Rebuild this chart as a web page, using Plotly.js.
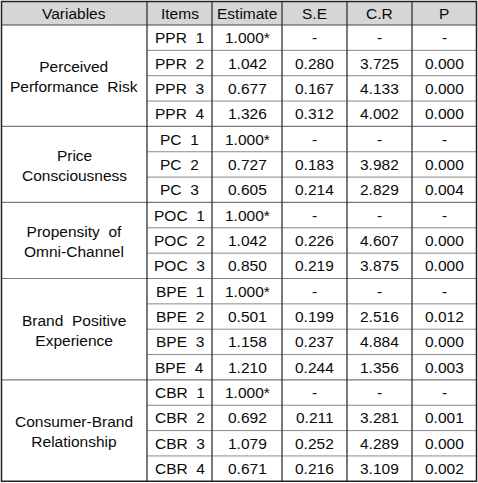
<!DOCTYPE html>
<html>
<head>
<meta charset="utf-8">
<script src="https://cdn.plot.ly/plotly-3.0.1.min.js"></script>
<style>html,body{margin:0;padding:0;background:#fff;}#chart{width:478px;height:483px;}</style>
</head>
<body>
<div id="chart"></div>
<script>
// ---- data ----
const headers = ["Variables", "Items", "Estimate", "S.E", "C.R", "P"];
const variables = ["Perceived<br>Performance\u00a0\u00a0Risk", "Price<br>Consciousness", "Propensity\u00a0\u00a0of<br>Omni-Channel", "Brand\u00a0\u00a0Positive<br>Experience", "Consumer-Brand<br>Relationship"];
const groupSizes = [4, 3, 3, 4, 4];
const items = ["PPR 1","PPR 2","PPR 3","PPR 4","PC 1","PC 2","PC 3","POC 1","POC 2","POC 3","BPE 1","BPE 2","BPE 3","BPE 4","CBR 1","CBR 2","CBR 3","CBR 4"];
const estimate = ["1.000*","1.042","0.677","1.326","1.000*","0.727","0.605","1.000*","1.042","0.850","1.000*","0.501","1.158","1.210","1.000*","0.692","1.079","0.671"];
const se = ["-","0.280","0.167","0.312","-","0.183","0.214","-","0.226","0.219","-","0.199","0.237","0.244","-","0.211","0.252","0.216"];
const cr = ["-","3.725","4.133","4.002","-","3.982","2.829","-","4.607","3.875","-","2.516","4.884","1.356","-","3.281","4.289","3.109"];
const pval = ["-","0.000","0.000","0.000","-","0.000","0.004","-","0.000","0.000","-","0.012","0.000","0.003","-","0.001","0.000","0.002"];

// ---- geometry ----
const colEdges = [1.5, 147, 212, 282, 347, 412, 476.5];
const tableTop = 1.5, headBottom = 25, rowH = 25.35;
const rowTop = i => headBottom + i * rowH;
const tableBottom = rowTop(items.length);
const fontFam = "Liberation Sans, Arial, sans-serif";
const txtColor = "#0a0a0a";
const shapes = [];
const ann = [];
const cx = c => (colEdges[c] + colEdges[c + 1]) / 2;

// header fill
shapes.push({type:"rect", xref:"x", yref:"y", x0:colEdges[0], x1:colEdges[6], y0:tableTop, y1:headBottom, fillcolor:"#d6d6d6", line:{width:0}, layer:"below"});

headers.forEach((h, c) => ann.push({x:cx(c), y:(tableTop+headBottom)/2, text:h}));

const cols = [items, estimate, se, cr, pval];
items.forEach((_, i) => {
  const yc = rowTop(i) + rowH / 2;
  cols.forEach((arr, k) => {
    ann.push({x:cx(k + 1), y:yc, text:arr[i].replace(/ /g, "\u00a0\u00a0")});
  });
});

// group labels and horizontal lines
let start = 0;
groupSizes.forEach((n, g) => {
  const y0 = rowTop(start), y1 = rowTop(start + n);
  ann.push({x:cx(0), y:(y0 + y1) / 2 + 1, text:variables[g]});
  for (let r = start + 1; r < start + n; r++) {
    shapes.push({type:"line", xref:"x", yref:"y", x0:colEdges[1], x1:colEdges[6], y0:rowTop(r), y1:rowTop(r), line:{color:"#8a8a8a", width:1}});
  }
  if (start + n < items.length) {
    shapes.push({type:"line", xref:"x", yref:"y", x0:colEdges[0], x1:colEdges[6], y0:y1, y1:y1, line:{color:"#7a7a7a", width:1.2}});
  }
  start += n;
});
// header bottom line
shapes.push({type:"line", xref:"x", yref:"y", x0:colEdges[0], x1:colEdges[6], y0:headBottom, y1:headBottom, line:{color:"#444", width:1.2}});
// vertical interior lines
for (let c = 1; c < 6; c++) {
  shapes.push({type:"line", xref:"x", yref:"y", x0:colEdges[c], x1:colEdges[c], y0:tableTop, y1:tableBottom, line:{color:"#333", width:1.3}});
}
// outer border
shapes.push({type:"rect", xref:"x", yref:"y", x0:colEdges[0], x1:colEdges[6], y0:tableTop, y1:tableBottom, line:{color:"#222", width:1.5}});

const annotations = ann.map(a => Object.assign({xref:"x", yref:"y", showarrow:false, xanchor:"center", yanchor:"middle", font:{family:fontFam, size:15.5, color:txtColor}}, a));

Plotly.newPlot("chart", [{x:[0], y:[0], mode:"markers", marker:{opacity:0}, hoverinfo:"skip", showlegend:false}], {
  width:478, height:483,
  margin:{l:0, r:0, t:0, b:0, pad:0},
  paper_bgcolor:"#fff", plot_bgcolor:"#fff",
  xaxis:{range:[0, 478], visible:false, fixedrange:true},
  yaxis:{range:[483, 0], visible:false, fixedrange:true},
  shapes:shapes, annotations:annotations, showlegend:false
}, {staticPlot:true});
</script>
</body>
</html>
